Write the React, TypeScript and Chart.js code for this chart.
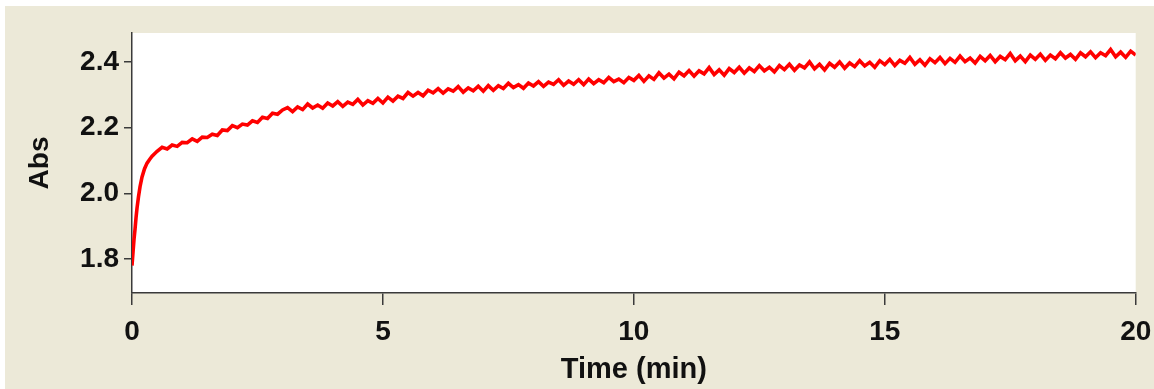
import React, { useEffect, useRef } from "react";
import { Chart, registerables } from "chart.js";

Chart.register(...registerables);

const TIME = [
  0, 0.02, 0.04, 0.06, 0.08, 0.1, 0.13, 0.16, 0.2, 0.25, 0.3, 0.35, 0.4, 0.5,
  0.6, 0.7, 0.8, 0.9, 1.0, 1.1, 1.2, 1.3, 1.4, 1.5, 1.6, 1.7, 1.8, 1.9, 2.0,
  2.1, 2.2, 2.3, 2.4, 2.5, 2.6, 2.7, 2.8, 2.9, 3.0,
  3.1, 3.2, 3.3, 3.4, 3.5, 3.6, 3.7, 3.8, 3.9, 4.0,
  4.1, 4.2, 4.3, 4.4, 4.5, 4.6, 4.7, 4.8, 4.9, 5.0,
  5.1, 5.2, 5.3, 5.4, 5.5, 5.6, 5.7, 5.8, 5.9, 6.0,
  6.1, 6.2, 6.3, 6.4, 6.5, 6.6, 6.7, 6.8, 6.9, 7.0,
  7.1, 7.2, 7.3, 7.4, 7.5, 7.6, 7.7, 7.8, 7.9, 8.0,
  8.1, 8.2, 8.3, 8.4, 8.5, 8.6, 8.7, 8.8, 8.9, 9.0,
  9.1, 9.2, 9.3, 9.4, 9.5, 9.6, 9.7, 9.8, 9.9, 10.0,
  10.1, 10.2, 10.3, 10.4, 10.5, 10.6, 10.7, 10.8, 10.9, 11.0,
  11.1, 11.2, 11.3, 11.4, 11.5, 11.6, 11.7, 11.8, 11.9, 12.0,
  12.1, 12.2, 12.3, 12.4, 12.5, 12.6, 12.7, 12.8, 12.9, 13.0,
  13.1, 13.2, 13.3, 13.4, 13.5, 13.6, 13.7, 13.8, 13.9, 14.0,
  14.1, 14.2, 14.3, 14.4, 14.5, 14.6, 14.7, 14.8, 14.9, 15.0,
  15.1, 15.2, 15.3, 15.4, 15.5, 15.6, 15.7, 15.8, 15.9, 16.0,
  16.1, 16.2, 16.3, 16.4, 16.5, 16.6, 16.7, 16.8, 16.9, 17.0,
  17.1, 17.2, 17.3, 17.4, 17.5, 17.6, 17.7, 17.8, 17.9, 18.0,
  18.1, 18.2, 18.3, 18.4, 18.5, 18.6, 18.7, 18.8, 18.9, 19.0,
  19.1, 19.2, 19.3, 19.4, 19.5, 19.6, 19.7, 19.8, 19.9, 20.0,
];

const ABS = [
  1.78, 1.82, 1.86, 1.89, 1.925, 1.955, 1.99, 2.02, 2.05, 2.075, 2.092, 2.103, 2.113, 2.128,
  2.140, 2.135, 2.147, 2.143, 2.155, 2.154, 2.166, 2.158, 2.171, 2.170, 2.180, 2.176, 2.193, 2.191, 2.206,
  2.200, 2.211, 2.208, 2.221, 2.216, 2.232, 2.228, 2.244, 2.241, 2.254,
  2.261, 2.249, 2.263, 2.255, 2.272, 2.260, 2.269, 2.259, 2.275, 2.266,
  2.279, 2.265, 2.278, 2.271, 2.286, 2.269, 2.282, 2.274, 2.289, 2.275,
  2.293, 2.281, 2.296, 2.289, 2.307, 2.296, 2.307, 2.297, 2.314, 2.306,
  2.319, 2.305, 2.318, 2.311, 2.325, 2.308, 2.321, 2.312, 2.326, 2.311,
  2.328, 2.314, 2.328, 2.319, 2.335, 2.322, 2.331, 2.320, 2.336, 2.327,
  2.340, 2.326, 2.339, 2.332, 2.346, 2.329, 2.342, 2.332, 2.346, 2.331,
  2.348, 2.334, 2.346, 2.337, 2.353, 2.340, 2.348, 2.337, 2.353, 2.344,
  2.359, 2.341, 2.358, 2.347, 2.367, 2.351, 2.363, 2.349, 2.369, 2.358,
  2.374, 2.357, 2.373, 2.364, 2.383, 2.362, 2.376, 2.360, 2.380, 2.368,
  2.384, 2.366, 2.382, 2.371, 2.389, 2.373, 2.384, 2.370, 2.389, 2.377,
  2.393, 2.375, 2.391, 2.382, 2.400, 2.379, 2.393, 2.376, 2.396, 2.384,
  2.400, 2.381, 2.397, 2.386, 2.404, 2.388, 2.399, 2.384, 2.404, 2.392,
  2.408, 2.389, 2.405, 2.396, 2.414, 2.393, 2.407, 2.390, 2.410, 2.398,
  2.414, 2.395, 2.411, 2.399, 2.418, 2.401, 2.412, 2.397, 2.417, 2.404,
  2.420, 2.401, 2.417, 2.407, 2.426, 2.404, 2.418, 2.401, 2.421, 2.408,
  2.424, 2.405, 2.421, 2.410, 2.428, 2.412, 2.423, 2.408, 2.428, 2.416,
  2.431, 2.413, 2.428, 2.419, 2.438, 2.416, 2.430, 2.414, 2.433, 2.421,
];

const X_TICKS = [0, 5, 10, 15, 20];
const Y_TICKS = [1.8, 2.0, 2.2, 2.4];
const X_TITLE = "Time (min)";
const Y_TITLE = "Abs";

const W = 1154;
const H = 389;
const FONT = "'Liberation Sans', Arial, sans-serif";
const AXIS = "#3a3a3a";

const whiteArea = {
  id: "whiteArea",
  beforeDraw(chart: any) {
    const { ctx, chartArea } = chart;
    ctx.save();
    ctx.fillStyle = "#ffffff";
    ctx.fillRect(chartArea.left, chartArea.top, chartArea.right - chartArea.left, chartArea.bottom - chartArea.top);
    ctx.restore();
  },
};

export default function App() {
  const ref = useRef<HTMLCanvasElement | null>(null);

  useEffect(() => {
    document.body.style.margin = "0";
    const points = TIME.map((t, i) => ({ x: t, y: ABS[i] }));
    const chart = new Chart(ref.current as HTMLCanvasElement, {
      type: "line",
      data: {
        datasets: [
          {
            data: points,
            borderColor: "#ff0000",
            borderWidth: 3.6,
            borderJoinStyle: "miter",
            pointRadius: 0,
            tension: 0,
            fill: false,
          },
        ],
      },
      options: {
        animation: false,
        responsive: false,
        devicePixelRatio: 1,
        layout: { padding: { left: 0, right: 18.3, top: 33, bottom: 0 } },
        plugins: { legend: { display: false }, tooltip: { enabled: false } },
        scales: {
          x: {
            type: "linear",
            min: 0,
            max: 20,
            afterBuildTicks: (s: any) => {
              s.ticks = X_TICKS.map((v) => ({ value: v }));
            },
            afterFit: (s: any) => {
              s.height = 96;
              s.paddingLeft = 0;
              s.paddingRight = 0;
            },
            grid: { drawOnChartArea: false, color: AXIS, tickLength: 12, lineWidth: 1.5 },
            border: { display: true, color: AXIS, width: 1.5 },
            ticks: {
              color: "#111",
              padding: 10,
              maxRotation: 0,
              font: { family: FONT, size: 28, weight: "bold" },
            },
            title: {
              display: true,
              text: X_TITLE,
              color: "#111",
              padding: { top: 0, bottom: 2 },
              font: { family: FONT, size: 29, weight: "bold" },
            },
          },
          y: {
            type: "linear",
            min: 1.6964,
            max: 2.4883,
            afterBuildTicks: (s: any) => {
              s.ticks = Y_TICKS.map((v) => ({ value: v }));
            },
            afterFit: (s: any) => {
              s.width = 132;
              s.paddingTop = 0;
              s.paddingBottom = 0;
            },
            grid: { drawOnChartArea: false, color: AXIS, tickLength: 8, lineWidth: 1.5 },
            border: { display: true, color: AXIS, width: 1.5 },
            ticks: {
              color: "#111",
              padding: 5,
              callback: (v: any) => Number(v).toFixed(1),
              font: { family: FONT, size: 28, weight: "bold" },
            },
            title: {
              display: true,
              text: Y_TITLE,
              color: "#111",
              padding: { top: 23, bottom: 0 },
              font: { family: FONT, size: 28, weight: "bold" },
            },
          },
        },
      },
      plugins: [whiteArea],
    });
    return () => chart.destroy();
  }, []);

  return (
    <div style={{ position: "relative", width: W, height: H, background: "#ffffff", overflow: "hidden" }}>
      <div style={{ position: "absolute", left: 5, top: 6, right: 0, bottom: 0, background: "#ECE9D8" }} />
      <canvas ref={ref} width={W} height={H} style={{ position: "absolute", left: 0, top: 0, width: W, height: H }} />
    </div>
  );
}
